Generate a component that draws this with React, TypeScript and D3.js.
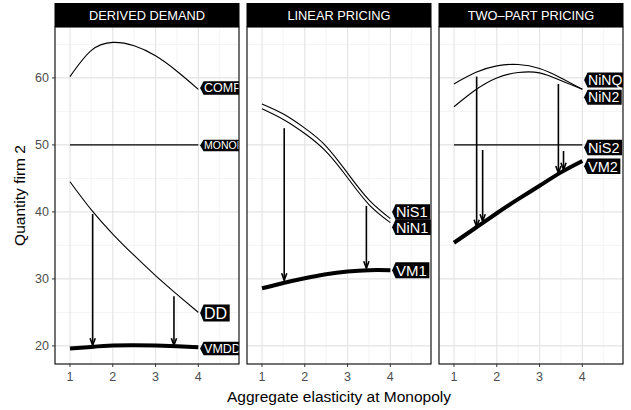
import React from "react";
import * as d3 from "d3";

// x grid shared by every curve
const xs = [1, 1.5, 2, 2.5, 3, 3.5, 4];

// DERIVED DEMAND
const comp = [60.2, 64.1, 65.3, 64.8, 63.3, 61.0, 58.3];
const monop = [50, 50, 50, 50, 50, 50, 50];
const dd = [44.5, 40.3, 36.7, 33.5, 30.5, 27.7, 25.0];
const vmdd = [19.6, 19.85, 20.05, 20.1, 20.05, 19.95, 19.8];

// LINEAR PRICING
const nis1 = [56.1, 54.6, 52.5, 49.8, 45.8, 41.8, 39.0];
const nin1 = [55.4, 53.8, 51.7, 49.0, 45.1, 41.1, 38.4];
const vm1 = [28.6, 29.4, 30.1, 30.7, 31.1, 31.3, 31.3];

// TWO-PART PRICING
const ninq = [59.1, 60.8, 61.8, 62.0, 61.4, 60.0, 58.3];
const nin2 = [55.7, 58.2, 60.0, 60.8, 60.75, 59.6, 58.3];
const nis2 = [50, 50, 50, 50, 50, 50, 50];
const vm2 = [35.4, 37.6, 39.8, 41.9, 43.9, 45.9, 47.6];

// arrows: [x, yStart, yEnd]
const arrows1 = [[1.53, 39.7, 20.1], [3.43, 27.4, 20.1]];
const arrows2 = [[1.52, 52.5, 29.8], [3.44, 40.9, 31.6]];
const arrows3 = [[1.53, 60.2, 37.8], [1.67, 49.25, 38.6], [3.44, 59.1, 45.8], [3.56, 49.1, 46.3]];

// direct labels: [text, y, font size]
const labels1 = [["COMP", 58.5, 12.5], ["MONOP", 49.9, 10.5], ["DD", 24.9, 16], ["VMDD", 19.6, 12.5]];
const labels2 = [["NiS1", 40.0, 14.5], ["NiN1", 37.7, 14.5], ["VM1", 31.3, 15]];
const labels3 = [["NiNQ", 59.7, 14], ["NiN2", 57.1, 14], ["NiS2", 49.6, 14.5], ["VM2", 46.8, 14.5]];

const panels = [
  {
    title: "DERIVED DEMAND",
    series: [[comp, 1.1], [monop, 1.1], [dd, 1.1], [vmdd, 4]],
    arrows: arrows1,
    labels: labels1,
  },
  {
    title: "LINEAR PRICING",
    series: [[nis1, 1.1], [nin1, 1.1], [vm1, 4]],
    arrows: arrows2,
    labels: labels2,
  },
  {
    title: "TWO\u2013PART PRICING",
    series: [[ninq, 1.1], [nin2, 1.1], [nis2, 1.1], [vm2, 4]],
    arrows: arrows3,
    labels: labels3,
  },
];

const xTicks = [1, 2, 3, 4];
const xMinor = [1.5, 2.5, 3.5, 4.5];
const yTicks = [20, 30, 40, 50, 60];
const yMinor = [25, 35, 45, 55, 65];

const font = "'Liberation Sans', Arial, sans-serif";

// rough Arial advance widths for the label text
const charW = (c: string) => {
  if ("MW".includes(c)) return 0.833;
  if ("OQ".includes(c)) return 0.778;
  if ("CDNR".includes(c)) return 0.722;
  if ("il".includes(c)) return 0.222;
  if ("0123456789".includes(c)) return 0.556;
  return 0.667;
};

const Panel = ({ p, i, left, w, top, bottom }) => {
  const x = d3.scaleLinear().domain([0.65, 4.95]).range([0, w]);
  const y = d3.scaleLinear().domain([17.3, 67.6]).range([bottom, top]);
  const line = d3
    .line<number>()
    .x((_, k) => x(xs[k]))
    .y((d) => y(d))
    .curve(d3.curveNatural);
  const clipId = `clip${i}`;
  return (
    <g transform={`translate(${left},0)`}>
      <defs>
        <clipPath id={clipId}>
          <rect x={0} y={top} width={w} height={bottom - top} />
        </clipPath>
      </defs>
      <rect x={0} y={top} width={w} height={bottom - top} fill="white" />
      {xMinor.map((t) => (
        <line key={"xm" + t} x1={x(t)} x2={x(t)} y1={top} y2={bottom} stroke="#f0f0f0" strokeWidth={0.7} />
      ))}
      {yMinor.map((t) => (
        <line key={"ym" + t} x1={0} x2={w} y1={y(t)} y2={y(t)} stroke="#f0f0f0" strokeWidth={0.7} />
      ))}
      {xTicks.map((t) => (
        <line key={"xg" + t} x1={x(t)} x2={x(t)} y1={top} y2={bottom} stroke="#e3e3e3" strokeWidth={1.1} />
      ))}
      {yTicks.map((t) => (
        <line key={"yg" + t} x1={0} x2={w} y1={y(t)} y2={y(t)} stroke="#e3e3e3" strokeWidth={1.1} />
      ))}
      <g clipPath={`url(#${clipId})`}>
        {p.series.map(([vals, lw], k) => (
          <path key={k} d={line(vals)} fill="none" stroke="black" strokeWidth={lw} />
        ))}
        {p.arrows.map(([ax, y0, y1], k) => {
          const px = x(ax);
          const py1 = y(y1);
          return (
            <g key={"a" + k} stroke="black" strokeWidth={1.6} fill="none">
              <line x1={px} x2={px} y1={y(y0)} y2={py1} />
              <path d={`M${px - 2.6},${py1 - 7} L${px},${py1} L${px + 2.6},${py1 - 7}`} />
            </g>
          );
        })}
        {p.labels.map(([txt, ly, fs], k) => {
          const tx = x(4.04);
          const cy = y(ly);
          const tw = (txt as string).split("").reduce((s, c) => s + charW(c), 0) * fs + 3;
          const h = fs + 1;
          const tip = 3.5;
          const d = `M${tx},${cy} L${tx + tip},${cy - h / 2} L${tx + tip + tw},${cy - h / 2} L${tx + tip + tw},${cy + h / 2} L${tx + tip},${cy + h / 2} Z`;
          return (
            <g key={"l" + k}>
              <path d={d} fill="black" />
              <text x={tx + tip + 0.5} y={cy} dy="0.36em" fill="white" fontSize={fs} fontFamily={font}>
                {txt}
              </text>
            </g>
          );
        })}
      </g>
      <rect x={0} y={top} width={w} height={bottom - top} fill="none" stroke="black" strokeWidth={1.1} />
      <rect x={-0.5} y={3} width={w + 1} height={top - 3} fill="black" />
      <text x={w / 2} y={(3 + top) / 2} dy="0.36em" textAnchor="middle" fill="white" fontSize={12.8} fontFamily={font}>
        {p.title}
      </text>
      {xTicks.map((t) => (
        <g key={"xt" + t}>
          <line x1={x(t)} x2={x(t)} y1={bottom} y2={bottom + 3} stroke="#333" strokeWidth={1} />
          <text x={x(t)} y={bottom + 12.5} dy="0.36em" textAnchor="middle" fill="#4d4d4d" fontSize={12.5} fontFamily={font}>
            {t}
          </text>
        </g>
      ))}
    </g>
  );
};

const App = () => {
  const W = 631;
  const H = 410;
  const top = 27;
  const bottom = 364;
  const w = 184;
  const lefts = [55, 247, 439];
  const y = d3.scaleLinear().domain([17.3, 67.6]).range([bottom, top]);
  return (
    <svg width={W} height={H} style={{ position: "absolute", left: 0, top: 0 }} fontFamily={font}>
      <rect width={W} height={H} fill="white" />
      {panels.map((p, i) => (
        <Panel key={i} p={p} i={i} left={lefts[i]} w={w} top={top} bottom={bottom} />
      ))}
      {yTicks.map((t) => (
        <g key={"yt" + t}>
          <line x1={52} x2={55} y1={y(t)} y2={y(t)} stroke="#333" strokeWidth={1} />
          <text x={49} y={y(t)} dy="0.36em" textAnchor="end" fill="#4d4d4d" fontSize={12.5}>
            {t}
          </text>
        </g>
      ))}
      <text transform={`translate(19,${(top + bottom) / 2}) rotate(-90)`} textAnchor="middle" dy="0.36em" fontSize={15.5}>
        Quantity firm 2
      </text>
      <text x={(55 + 623) / 2} y={396} textAnchor="middle" dy="0.36em" fontSize={15.5}>
        Aggregate elasticity at Monopoly
      </text>
    </svg>
  );
};

export default App;
